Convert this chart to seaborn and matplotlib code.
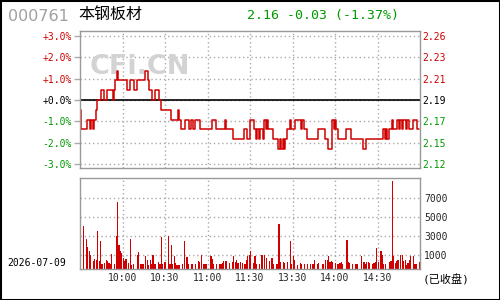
import numpy as np
import pandas as pd
import matplotlib
matplotlib.use("Agg")
import matplotlib.pyplot as plt
import seaborn as sns
from matplotlib.patches import Rectangle

sns.set_style("white")
plt.rcParams['font.family'] = ['DejaVu Sans', 'Noto Sans CJK SC']

# ---------------- data ----------------
stock_code = "000761"
stock_name = "本钢板材"
quote_text = "2.16 -0.03 (-1.37%)"
date_text = "2026-07-09"
status_text = "(已收盘)"
prev_close = 2.19

# one price per trading minute (9:30-11:30, 13:00-15:00)
prices = [
    2.18, 2.16, 2.16, 2.16, 2.16, 2.17, 2.17, 2.16, 2.17, 2.16,
    2.17, 2.18, 2.19, 2.19, 2.19, 2.20, 2.20, 2.19, 2.19, 2.20,
    2.20, 2.20, 2.20, 2.19, 2.20, 2.21, 2.22, 2.21, 2.21, 2.21,
    2.21, 2.21, 2.21, 2.20, 2.20, 2.21, 2.21, 2.21, 2.20, 2.20,
    2.21, 2.21, 2.21, 2.21, 2.21, 2.21, 2.22, 2.22, 2.21, 2.20,
    2.20, 2.19, 2.19, 2.20, 2.20, 2.20, 2.19, 2.18, 2.18, 2.18,
    2.18, 2.18, 2.18, 2.18, 2.17, 2.17, 2.17, 2.17, 2.17, 2.18,
    2.17, 2.16, 2.16, 2.16, 2.17, 2.17, 2.17, 2.16, 2.17, 2.17,
    2.16, 2.17, 2.17, 2.17, 2.17, 2.16, 2.16, 2.16, 2.16, 2.16,
    2.16, 2.16, 2.16, 2.17, 2.17, 2.17, 2.16, 2.16, 2.16, 2.16,
    2.16, 2.16, 2.17, 2.16, 2.16, 2.16, 2.16, 2.16, 2.15, 2.15,
    2.15, 2.15, 2.15, 2.15, 2.15, 2.15, 2.16, 2.16, 2.15, 2.15,
    2.17, 2.17, 2.17, 2.16, 2.15, 2.16, 2.15, 2.16, 2.16, 2.15,
    2.17, 2.16, 2.17, 2.16, 2.16, 2.16, 2.15, 2.15, 2.15, 2.15,
    2.14, 2.15, 2.14, 2.15, 2.14, 2.15, 2.16, 2.16, 2.17, 2.16,
    2.16, 2.16, 2.17, 2.17, 2.17, 2.17, 2.16, 2.17, 2.16, 2.16,
    2.15, 2.15, 2.15, 2.15, 2.15, 2.15, 2.15, 2.15, 2.16, 2.16,
    2.16, 2.16, 2.16, 2.15, 2.15, 2.14, 2.14, 2.14, 2.17, 2.16,
    2.17, 2.16, 2.15, 2.15, 2.15, 2.15, 2.15, 2.15, 2.16, 2.16,
    2.16, 2.15, 2.15, 2.15, 2.15, 2.15, 2.15, 2.15, 2.15, 2.15,
    2.14, 2.14, 2.15, 2.15, 2.15, 2.15, 2.15, 2.15, 2.15, 2.15,
    2.15, 2.15, 2.15, 2.15, 2.16, 2.15, 2.16, 2.15, 2.16, 2.16,
    2.17, 2.16, 2.16, 2.16, 2.17, 2.16, 2.17, 2.16, 2.17, 2.17,
    2.16, 2.17, 2.16, 2.16, 2.16, 2.17, 2.17, 2.17, 2.16, 2.16,
]

# one volume per trading minute
volumes = [
    456, 0, 4490, 0, 3190, 2280, 1930, 1510, 0, 880,
    1090, 980, 3970, 880, 2910, 530, 0, 630, 980, 800,
    630, 530, 1610, 0, 560, 3440, 7020, 2560, 1930, 1680,
    1160, 800, 1090, 0, 630, 3190, 456, 560, 0, 0,
    1440, 1750, 560, 560, 530, 0, 1330, 980, 456, 980,
    560, 1510, 530, 530, 0, 700, 530, 3330, 530, 700,
    740, 0, 3440, 530, 2560, 530, 1330, 630, 456, 456,
    456, 0, 530, 2980, 0, 1230, 530, 0, 530, 530,
    0, 530, 0, 880, 700, 1510, 0, 530, 530, 530,
    0, 0, 1330, 1090, 530, 0, 560, 0, 530, 530,
    630, 800, 880, 880, 0, 630, 0, 740, 1400, 740,
    980, 630, 0, 740, 630, 0, 560, 980, 1330, 1510,
    1930, 0, 630, 1330, 560, 0, 560, 0, 1510, 0,
    1510, 1160, 0, 880, 0, 1160, 530, 0, 530, 530,
    4770, 700, 0, 740, 630, 0, 740, 0, 2980, 530,
    1330, 950, 0, 456, 0, 630, 560, 0, 530, 0,
    560, 0, 560, 0, 530, 980, 0, 530, 630, 0,
    0, 530, 0, 980, 980, 1400, 740, 800, 740, 0,
    630, 560, 530, 630, 740, 530, 0, 0, 3090, 700,
    630, 0, 530, 0, 560, 530, 0, 0, 1330, 0,
    740, 530, 740, 740, 630, 0, 530, 630, 740, 2210,
    740, 0, 1860, 1440, 530, 560, 0, 0, 740, 800,
    9230, 1330, 630, 880, 980, 0, 1440, 1510, 880, 980,
    456, 630, 980, 1330, 0, 1330, 530, 530, 0, 740,
]

pct_ticks = [3, 2, 1, 0, -1, -2, -3]
pct_labels = ["+3.0%", "+2.0%", "+1.0%", "+0.0%", "-1.0%", "-2.0%", "-3.0%"]
time_ticks = [30, 60, 90, 120, 150, 180, 210]
time_labels = ["10:00", "10:30", "11:00", "11:30", "13:30", "14:00", "14:30"]
vol_grid_values = [1474, 3474, 5474, 7474]
vol_tick_labels = ["1000", "3000", "5000", "7000"]

# ---------------- style ----------------
RED = "#d00000"
GREEN = "#009900"
GRID = "#aaaaaa"
FRAME = "#999999"
MONO = ["DejaVu Sans Mono", "Noto Sans CJK SC"]
dotted = (0, (1, 2))

minutes = np.arange(len(prices))
df = pd.DataFrame({
    "minute": minutes,
    "pct": (np.array(prices) / prev_close - 1) * 100,
})
dv = pd.DataFrame({"minute": minutes + 0.5, "volume": volumes})

fig = plt.figure(figsize=(5, 3), dpi=100)
fig.patch.set_facecolor("white")
ax = fig.add_axes([0.16, 0.44, 0.68, 0.4567])
axv = fig.add_axes([0.16, 0.1033, 0.68, 0.3033])

# ---- price panel ----
ylo, yhi = -3.17, 3.22
ax.set_axisbelow(True)
sns.lineplot(data=df, x="minute", y="pct", drawstyle="steps-post",
             color=RED, linewidth=1.1, ax=ax, zorder=3)
ax.axhline(0, color="black", linewidth=1.2, zorder=2.5)
ax.set_xlim(0, 240)
ax.set_ylim(ylo, yhi)
ax.set_xlabel("")
ax.set_ylabel("")
ax.set_xticks(time_ticks)
ax.set_xticklabels([])
ax.set_yticks(pct_ticks)
ax.set_yticklabels(pct_labels, family=MONO, fontsize=7)
ax.tick_params(axis="x", length=0)
ax.tick_params(axis="y", length=4, color=GRID, width=1, pad=2)
ax.grid(True, linestyle=dotted, color=GRID, linewidth=1)
for sp in ax.spines.values():
    sp.set_color(FRAME)
    sp.set_linewidth(1)
    sp.set_zorder(4)
for lab, p in zip(ax.get_yticklabels(), pct_ticks):
    lab.set_color(RED if p > 0 else ("black" if p == 0 else GREEN))

ax2 = ax.twinx()
ax2.set_ylim(prev_close * (1 + ylo / 100), prev_close * (1 + yhi / 100))
price_ticks = [prev_close * (1 + p / 100) for p in pct_ticks]
ax2.set_yticks(price_ticks)
ax2.set_yticklabels([f"{v:.2f}" for v in price_ticks], family=MONO, fontsize=7)
ax2.tick_params(axis="y", length=0, pad=1.5)
for sp in ax2.spines.values():
    sp.set_visible(False)
for lab, p in zip(ax2.get_yticklabels(), pct_ticks):
    lab.set_color(RED if p > 0 else ("black" if p == 0 else GREEN))
ax2.grid(False)

# watermark
ax.text(90 / 500, 1 - 74.5 / 300, "CFi.CN", transform=fig.transFigure,
        fontsize=19.5, fontweight="bold", color="#d3d3d3",
        family="DejaVu Sans", ha="left", va="baseline", zorder=1)

# ---- volume panel ----
axv.set_axisbelow(True)
sns.barplot(data=dv, x="minute", y="volume", native_scale=True, width=0.85,
            color=RED, saturation=1, errorbar=None, edgecolor="none",
            linewidth=0, antialiased=False, ax=axv, zorder=3)
axv.set_xlim(0, 240)
axv.set_ylim(0, 9579)
axv.set_xlabel("")
axv.set_ylabel("")
axv.set_xticks(time_ticks)
axv.set_xticklabels(time_labels, family=MONO, fontsize=7)
axv.yaxis.tick_right()
axv.set_yticks(vol_grid_values)
axv.set_yticklabels(vol_tick_labels, family=MONO, fontsize=7)
axv.tick_params(axis="x", length=0, pad=3)
axv.tick_params(axis="y", length=0, pad=3)
axv.grid(True, linestyle=dotted, color=GRID, linewidth=1)
for sp in axv.spines.values():
    sp.set_color(FRAME)
    sp.set_linewidth(1)
    sp.set_zorder(4)

# ---- header & footer texts ----
fig.text(8 / 500, 1 - 21.3 / 300, stock_code, fontsize=11.5, color="#a0a0a0",
         family="DejaVu Sans", ha="left", va="baseline")
fig.text(78 / 500, 1 - 19 / 300, stock_name, fontsize=11.5, color="black",
         family=["Noto Sans CJK SC", "DejaVu Sans"], ha="left", va="baseline")
fig.text(247 / 500, 1 - 19.3 / 300, quote_text, fontsize=9.5, color=GREEN,
         family=MONO, ha="left", va="baseline")
fig.text(7 / 500, 1 - 263 / 300, date_text, fontsize=7, color="black",
         family=MONO, ha="left", va="center")
fig.text(423 / 500, 1 - 280 / 300, status_text, fontsize=8, color="black",
         family=MONO, ha="left", va="center")

fig.add_artist(Rectangle((0, 0), 1, 1, transform=fig.transFigure, fill=False,
                         edgecolor="black", linewidth=2.2))

fig.savefig("out.png", dpi=100, facecolor="white")
